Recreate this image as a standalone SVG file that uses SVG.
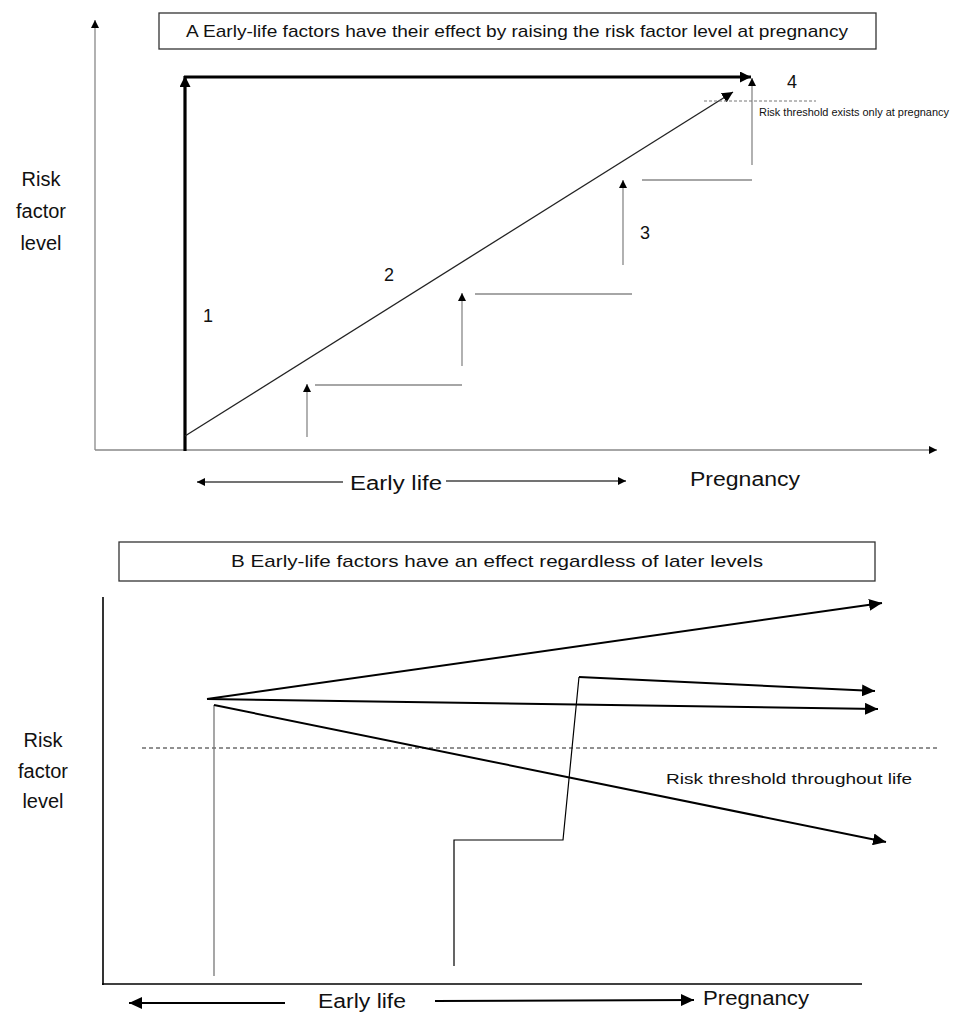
<svg xmlns="http://www.w3.org/2000/svg" width="971" height="1013" viewBox="0 0 971 1013">
<defs>
<style>
text{font-family:"Liberation Sans",Arial,sans-serif;fill:#111}
.lbl{font-size:20px}
.num{font-size:18px}
.title{font-size:17px}
.ax{stroke:#888;stroke-width:1.3;fill:none}
.axb{stroke:#000;stroke-width:1.6;fill:none}
.thick{stroke:#000;stroke-width:3.2;fill:none}
.diag{stroke:#222;stroke-width:1.3;fill:none}
.gray{stroke:#888;stroke-width:1.3;fill:none}
.fan{stroke:#000;stroke-width:2;fill:none}
.step{stroke:#000;stroke-width:1.2;fill:none}
.box{fill:#fff;stroke:#333;stroke-width:1.3}
</style>
<marker id="sm" markerUnits="userSpaceOnUse" markerWidth="8" markerHeight="8" viewBox="0 0 10 10" refX="10" refY="5" orient="auto"><path d="M0,0 L10,5 L0,10 z" fill="#000"/></marker>
<marker id="big" markerUnits="userSpaceOnUse" markerWidth="11" markerHeight="11" viewBox="0 0 10 10" refX="10" refY="5" orient="auto"><path d="M0,0 L10,5 L0,10 z" fill="#000"/></marker>
<marker id="fanm" markerUnits="userSpaceOnUse" markerWidth="13" markerHeight="12" viewBox="0 0 10 10" refX="10" refY="5" orient="auto" preserveAspectRatio="none"><path d="M0,0 L10,5 L0,10 z" fill="#000"/></marker>
</defs>
<rect width="971" height="1013" fill="#fff"/>

<!-- Panel A -->
<g id="A-title"><rect class="box" x="159" y="13" width="717" height="36"/><text class="title" x="186" y="37" textLength="662" lengthAdjust="spacingAndGlyphs">A  Early-life factors have their effect by raising the risk factor level at pregnancy</text></g>
<g id="A-ylabel"><text class="lbl" text-anchor="middle" x="41" y="186">Risk</text><text class="lbl" text-anchor="middle" x="41" y="218">factor</text><text class="lbl" text-anchor="middle" x="41" y="250">level</text></g>
<g id="A-axes">
<line class="ax" x1="95" y1="450" x2="95" y2="20" marker-end="url(#sm)"/>
<line class="ax" x1="95" y1="450" x2="937" y2="450" marker-end="url(#sm)"/>
</g>
<g id="A-connectors">
<line class="thick" x1="185" y1="451" x2="185" y2="76" marker-end="url(#big)"/>
<line class="thick" x1="184" y1="77" x2="751" y2="77" marker-end="url(#big)"/>
<line class="diag" x1="185" y1="436" x2="733" y2="92" marker-end="url(#big)"/>
<line class="gray" x1="307" y1="437" x2="307" y2="384" marker-end="url(#sm)"/>
<line class="gray" x1="315" y1="385" x2="462" y2="385"/>
<line class="gray" x1="462" y1="366" x2="462" y2="293" marker-end="url(#sm)"/>
<line class="gray" x1="475" y1="294" x2="632" y2="294"/>
<line class="gray" x1="623" y1="265" x2="623" y2="180" marker-end="url(#sm)"/>
<line class="gray" x1="642" y1="180" x2="752" y2="180"/>
<line class="gray" x1="752" y1="165" x2="752" y2="78" marker-end="url(#sm)"/>
<line x1="704" y1="101" x2="816" y2="101" stroke="#777" stroke-width="1" stroke-dasharray="3,2"/>
</g>
<g id="A-labels">
<text class="num" x="203" y="322">1</text>
<text class="num" x="384" y="281">2</text>
<text class="num" x="640" y="239">3</text>
<text class="num" x="787" y="88">4</text>
<text x="759" y="116" font-size="10" fill="#444" textLength="190" lengthAdjust="spacingAndGlyphs">Risk threshold exists only at pregnancy</text>
</g>
<g id="A-timeline">
<line class="ax" x1="343" y1="482" x2="197" y2="482" marker-end="url(#sm)" style="stroke:#444"/>
<line class="ax" x1="446" y1="481" x2="626" y2="481" marker-end="url(#sm)" style="stroke:#444"/>
<text class="lbl" x="350" y="490" textLength="92" lengthAdjust="spacingAndGlyphs">Early life</text>
<text class="lbl" x="690" y="486" textLength="110" lengthAdjust="spacingAndGlyphs">Pregnancy</text>
</g>

<!-- Panel B -->
<g id="B-title"><rect class="box" x="119" y="542" width="756" height="39"/><text class="title" x="231" y="567" textLength="532" lengthAdjust="spacingAndGlyphs">B  Early-life factors have an effect regardless of later levels</text></g>
<g id="B-ylabel"><text class="lbl" text-anchor="middle" x="43" y="747">Risk</text><text class="lbl" text-anchor="middle" x="43" y="778">factor</text><text class="lbl" text-anchor="middle" x="43" y="808">level</text></g>
<g id="B-axes">
<line class="axb" x1="103" y1="597" x2="103" y2="985"/>
<line class="axb" x1="102" y1="984" x2="862" y2="984"/>
</g>
<g id="B-connectors">
<line x1="142" y1="748" x2="937" y2="748" stroke="#222" stroke-width="1" stroke-dasharray="4,3"/>
<line x1="214" y1="705" x2="214" y2="976" stroke="#777" stroke-width="1.3"/>
<line class="fan" x1="207" y1="699" x2="882" y2="603" marker-end="url(#fanm)"/>
<line class="fan" x1="207" y1="699" x2="878" y2="709" marker-end="url(#fanm)"/>
<line class="fan" x1="214" y1="705" x2="886" y2="842" marker-end="url(#fanm)"/>
<polyline class="step" points="454,966 454,840 563,840 579,677"/>
<line class="fan" x1="579" y1="677" x2="875" y2="691" marker-end="url(#fanm)"/>
<text x="666" y="784" font-size="15" textLength="246" lengthAdjust="spacingAndGlyphs">Risk threshold throughout life</text>
</g>
<g id="B-timeline">
<line class="fan" x1="285" y1="1003" x2="129" y2="1003" marker-end="url(#fanm)"/>
<line class="fan" x1="435" y1="1001" x2="694" y2="1000" marker-end="url(#fanm)"/>
<text class="lbl" x="318" y="1008" textLength="88" lengthAdjust="spacingAndGlyphs">Early life</text>
<text class="lbl" x="703" y="1005" textLength="106" lengthAdjust="spacingAndGlyphs">Pregnancy</text>
</g>
</svg>
